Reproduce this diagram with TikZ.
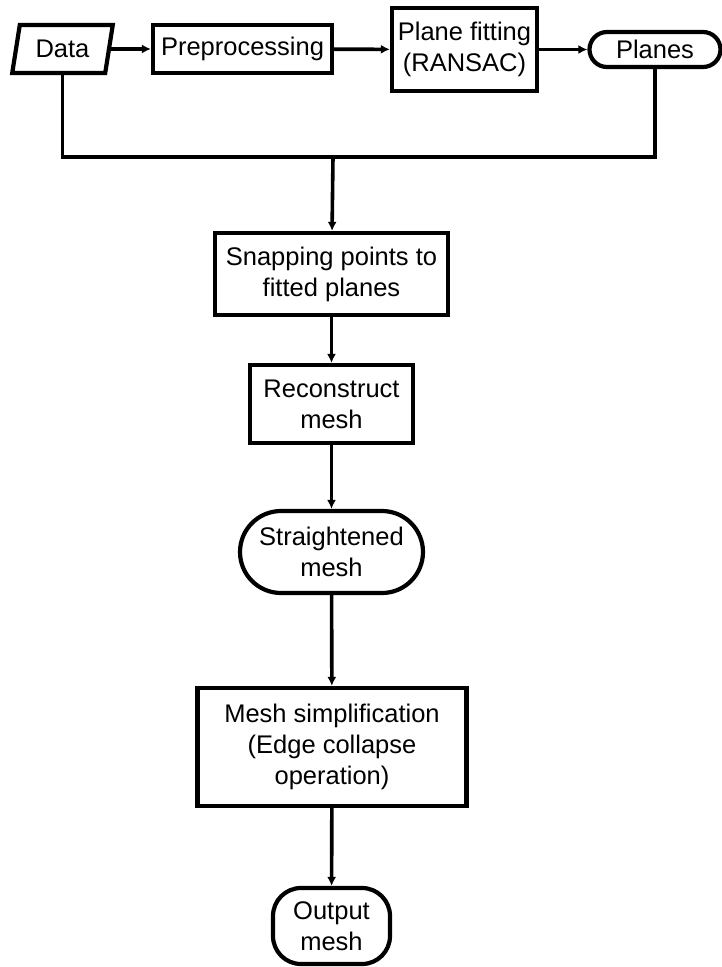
\documentclass[tikz,border=0pt]{standalone}
\usepackage{fontspec}
\setmainfont{Liberation Sans}
\usepackage{tikz}
\usetikzlibrary{shapes.geometric,shapes.misc,arrows.meta}

\begin{document}
\begin{tikzpicture}[x=1pt, y=-1pt,
    every node/.style={font=\fontsize{25.5}{31}\selectfont, draw, line width=4.2pt, inner sep=0pt, align=center},
    procbox/.style={rectangle},
    termbox/.style={rounded rectangle},
    iobox/.style={trapezium, trapezium left angle=75, trapezium right angle=105, trapezium stretches=true},
    flow/.style={line width=3.6pt, -{Latex[length=9pt,width=9pt]}}]
    \useasboundingbox (0,0) rectangle (722,967);
    \node[iobox, minimum width=101pt, minimum height=48pt] (data) at (62.5,49) {Data};
    \node[procbox, minimum width=179pt, minimum height=48pt] (prep) at (242.5,49) {Preprocessing};
    \node[procbox, minimum width=145pt, minimum height=83pt] (fit) at (464.5,49.5) {Plane fitting\\(RANSAC)};
    \node[termbox, minimum width=131pt, minimum height=35pt] (planes) at (655,49.5) {Planes};
    \node[procbox, minimum width=233pt, minimum height=82pt] (snap) at (331.5,274) {Snapping points to\\fitted planes};
    \node[procbox, minimum width=163pt, minimum height=78pt] (recon) at (331.5,404) {Reconstruct\\mesh};
    \node[termbox, minimum width=183pt, minimum height=82pt] (straight) at (331.5,552) {Straightened\\mesh};
    \node[procbox, minimum width=269pt, minimum height=118pt] (simp) at (332,747) {Mesh simplification\\(Edge collapse\\operation)};
    \node[procbox, rounded corners=28pt, minimum width=117pt, minimum height=76pt] (out) at (331.5,926) {Output\\mesh};
    \coordinate (bus) at (333,157);
    \draw[flow] (data) -- (prep);
    \draw[flow] (prep) -- (fit);
    \draw[flow] (fit) -- (planes);
    \draw[line width=3.6pt] (data.south) -- (data.south |- bus) -- (planes.south |- bus) -- (planes.south);
    \draw[flow] (bus) -- (snap);
    \draw[flow] (snap) -- (recon);
    \draw[flow] (recon) -- (straight);
    \draw[flow] (straight) -- (simp);
    \draw[flow] (simp) -- (out);
\end{tikzpicture}
\end{document}
